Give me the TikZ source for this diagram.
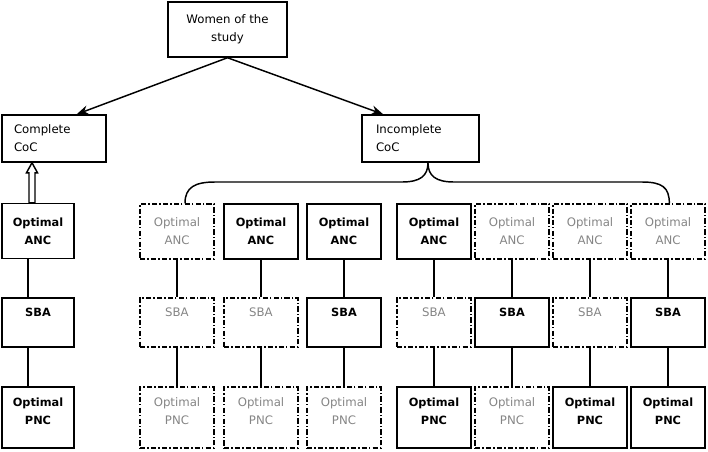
\documentclass[tikz,border=0pt]{standalone}
\usepackage{fontspec}
\setmainfont{DejaVu Sans}
\usetikzlibrary{arrows.meta,calc}
\begin{document}
\begin{tikzpicture}[x=0.75pt,y=-0.75pt,
  base/.style={draw=black,line width=1.1pt,rectangle,inner sep=0pt,align=center,font=\fontsize{8.8}{13.5}\selectfont},
  solidbox/.style={base,font=\fontsize{8.5}{13.5}\selectfont\bfseries,text=black},
  dashbox/.style={base,dash pattern=on 4pt off 1.6pt on 1pt off 1.6pt,text=black!48},
  colw/.style={minimum width=55.5pt},
  anc/.style={minimum height=41.25pt},
  sba/.style={minimum height=36.75pt,text depth=15pt},
  pnc/.style={minimum height=45.75pt,text depth=10pt},
  conn/.style={line width=1.1pt},
  arr/.style={line width=1.1pt,-{Stealth[length=9pt,width=7pt]}}]
\useasboundingbox (0,0) rectangle (708,451);

% top
\node[base,minimum width=89.25pt,minimum height=41.25pt] (women) at (227.5,29.5) {Women of the\\study};
\node[base,minimum height=35.25pt,text width=60pt,inner xsep=9pt,align=left] (comp) at (54,138.5) {Complete\\CoC};
\node[base,minimum height=35.25pt,text width=66.75pt,inner xsep=10.5pt,align=left] (incomp) at (420.5,138.5) {Incomplete\\CoC};

\draw[arr] (women.south) -- ([xshift=17pt]comp.north);
\draw[arr] (women.south) -- ([xshift=-28pt]incomp.north);

% left column
\node[solidbox,minimum width=54pt,anc] (la) at (38,231) {Optimal\\ANC};
\node[solidbox,minimum width=54pt,sba] (ls) at (38,322.5) {SBA};
\node[solidbox,minimum width=54pt,pnc] (lp) at (38,417.5) {Optimal\\PNC};
\draw[conn] ([xshift=-7.5pt]la.south) -- ([xshift=-7.5pt]ls.north);
\draw[conn] ([xshift=-7.5pt]ls.south) -- ([xshift=-7.5pt]lp.north);
\draw[line width=1.1pt,fill=white]
  ($(la.north)+(-9,0)$) -- ($(la.north)+(-9,-30)$) -- ($(la.north)+(-11.5,-30)$)
  -- ($(la.north)+(-6,-40)$) -- ($(la.north)+(-0.5,-30)$) -- ($(la.north)+(-3,-30)$)
  -- ($(la.north)+(-3,0)$) -- cycle;

% incomplete columns
\node[dashbox,colw,anc] (a1) at (177,231.5) {Optimal\\ANC};
\node[dashbox,colw,sba] (s1) at (177,322.5) {SBA};
\node[dashbox,colw,pnc] (p1) at (177,417.5) {Optimal\\PNC};

\node[solidbox,colw,anc] (a2) at (261,231.5) {Optimal\\ANC};
\node[dashbox,colw,sba] (s2) at (261,322.5) {SBA};
\node[dashbox,colw,pnc] (p2) at (261,417.5) {Optimal\\PNC};

\node[solidbox,colw,anc] (a3) at (344,231.5) {Optimal\\ANC};
\node[solidbox,colw,sba] (s3) at (344,322.5) {SBA};
\node[dashbox,colw,pnc] (p3) at (344,417.5) {Optimal\\PNC};

\node[solidbox,colw,anc] (a4) at (434,231.5) {Optimal\\ANC};
\node[dashbox,colw,sba] (s4) at (434,322.5) {SBA};
\node[solidbox,colw,pnc] (p4) at (434,417.5) {Optimal\\PNC};

\node[dashbox,colw,anc] (a5) at (512,231.5) {Optimal\\ANC};
\node[solidbox,colw,sba] (s5) at (512,322.5) {SBA};
\node[dashbox,colw,pnc] (p5) at (512,417.5) {Optimal\\PNC};

\node[dashbox,colw,anc] (a6) at (590,231.5) {Optimal\\ANC};
\node[dashbox,colw,sba] (s6) at (590,322.5) {SBA};
\node[solidbox,colw,pnc] (p6) at (590,417.5) {Optimal\\PNC};

\node[dashbox,colw,anc] (a7) at (668,231.5) {Optimal\\ANC};
\node[solidbox,colw,sba] (s7) at (668,322.5) {SBA};
\node[solidbox,colw,pnc] (p7) at (668,417.5) {Optimal\\PNC};

\foreach \i in {1,...,7}{
  \draw[conn] (a\i.south) -- (s\i.north);
  \draw[conn] (s\i.south) -- (p\i.north);
}

% brace
\draw[conn] ([xshift=6pt]a1.north) .. controls ($([xshift=6pt]a1.north)+(0,-16)$) and (195,182) .. (215,182)
  -- (402,182) .. controls (420,182) and (428,176) .. ([xshift=5.6pt]incomp.south)
  .. controls (428,176) and (436,182) .. (454,182)
  -- (642,182) .. controls (662,182) and ($([xshift=1pt]a7.north)+(0,-16)$) .. ([xshift=1pt]a7.north);
\end{tikzpicture}
\end{document}
